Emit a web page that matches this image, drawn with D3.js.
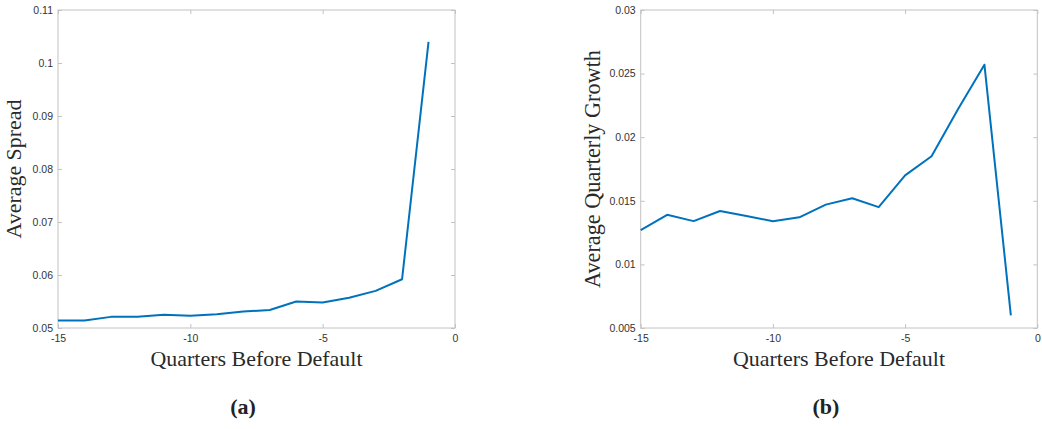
<!DOCTYPE html>
<html>
<head>
<meta charset="utf-8">
<script src="https://cdn.jsdelivr.net/npm/d3@7/dist/d3.min.js"></script>
<style>
  html, body { margin: 0; padding: 0; background: #fff; }
  svg { display: block; }
</style>
</head>
<body>
<svg id="chart" width="1042" height="429"></svg>
<script>
// ---- Data ----
const quarters = [-15, -14, -13, -12, -11, -10, -9, -8, -7, -6, -5, -4, -3, -2, -1];
const spreadValues = [0.0514, 0.0514, 0.0521, 0.0521, 0.0525, 0.0523, 0.0526, 0.0531, 0.0534, 0.0550, 0.0548, 0.0557, 0.0570, 0.0592, 0.1040];
const growthValues = [0.0127, 0.0139, 0.0134, 0.0142, 0.0138, 0.0134, 0.0137, 0.0147, 0.0152, 0.0145, 0.0170, 0.0185, 0.0222, 0.0257, 0.0060];
const xTicks = [-15, -10, -5, 0];
const spreadTicks = [0.05, 0.06, 0.07, 0.08, 0.09, 0.1, 0.11];
const growthTicks = [0.005, 0.01, 0.015, 0.02, 0.025, 0.03];
const xLabel = "Quarters Before Default";
const panels = [
  { values: spreadValues, yTicks: spreadTicks, yDomain: [0.05, 0.11], yLabel: "Average Spread", caption: "(a)" },
  { values: growthValues, yTicks: growthTicks, yDomain: [0.005, 0.03], yLabel: "Average Quarterly Growth", caption: "(b)" }
];

// ---- Layout ----
const layout = [
  { left: 58, right: 455, top: 10, bottom: 328, yLabelX: 21, yLabelW: 139, captionX: 243 },
  { left: 640.7, right: 1037.3, top: 10, bottom: 328, yLabelX: 600, yLabelW: 238, captionX: 826 }
];

const svg = d3.select("#chart");
const serif = "'Liberation Serif', 'DejaVu Serif', serif";
const sans = "'Liberation Sans', Arial, sans-serif";
const axisColor = "#c2c2c2";
const tickTextColor = "#333";

function fitText(sel, targetW) {
  const node = sel.node();
  const size = parseFloat(sel.attr("font-size"));
  const w = node.getComputedTextLength();
  if (w > 0) sel.attr("font-size", (size * targetW / w).toFixed(2));
}

panels.forEach((p, i) => {
  const L = layout[i];
  const x = d3.scaleLinear().domain([-15, 0]).range([L.left, L.right]);
  const y = d3.scaleLinear().domain(p.yDomain).range([L.bottom, L.top]);
  const g = svg.append("g");

  const tickLen = 4;
  const styleAxis = (ax, keepText) => {
    ax.select(".domain").remove();
    ax.selectAll(".tick line").attr("stroke", axisColor).attr("stroke-width", 1);
    if (keepText) {
      ax.selectAll(".tick text").attr("fill", tickTextColor).attr("font-family", sans).attr("font-size", "10.5px");
    } else {
      ax.selectAll(".tick text").remove();
    }
  };

  // bottom axis (ticks inward)
  const bx = g.append("g").attr("transform", `translate(0,${L.bottom})`)
    .call(d3.axisBottom(x).tickValues(xTicks).tickFormat(d => d < 0 ? "-" + Math.abs(d) : String(d)).tickSizeInner(-tickLen).tickSizeOuter(0).tickPadding(7));
  styleAxis(bx, true);
  // top axis ticks
  const tx = g.append("g").attr("transform", `translate(0,${L.top})`)
    .call(d3.axisTop(x).tickValues(xTicks).tickSizeInner(-tickLen).tickSizeOuter(0));
  styleAxis(tx, false);
  // left axis
  const fmt = d => String(+d.toFixed(4));
  const ly = g.append("g").attr("transform", `translate(${L.left},0)`)
    .call(d3.axisLeft(y).tickValues(p.yTicks).tickFormat(fmt).tickSizeInner(-tickLen).tickSizeOuter(0).tickPadding(5));
  styleAxis(ly, true);
  // right axis ticks
  const ry = g.append("g").attr("transform", `translate(${L.right},0)`)
    .call(d3.axisRight(y).tickValues(p.yTicks).tickSizeInner(-tickLen).tickSizeOuter(0));
  styleAxis(ry, false);

  // box
  g.append("rect")
    .attr("x", L.left).attr("y", L.top)
    .attr("width", L.right - L.left).attr("height", L.bottom - L.top)
    .attr("fill", "none").attr("stroke", axisColor).attr("stroke-width", 1);

  // line
  const line = d3.line().x((d, j) => x(quarters[j])).y(d => y(d));
  g.append("path").datum(p.values)
    .attr("d", line)
    .attr("fill", "none")
    .attr("stroke", "#0072BD")
    .attr("stroke-width", 2)
    .attr("stroke-linejoin", "round");

  // x label
  const xl = g.append("text")
    .attr("x", (L.left + L.right) / 2).attr("y", 365.5)
    .attr("text-anchor", "middle")
    .attr("font-family", serif).attr("font-size", 20).attr("fill", "#2a2a2a")
    .text(xLabel);
  fitText(xl, 212);

  // y label
  const yl = g.append("text")
    .attr("transform", `translate(${L.yLabelX},${(L.top + L.bottom) / 2}) rotate(-90)`)
    .attr("text-anchor", "middle")
    .attr("font-family", serif).attr("font-size", 20).attr("fill", "#2a2a2a")
    .text(p.yLabel);
  fitText(yl, L.yLabelW);

  // caption
  g.append("text")
    .attr("x", L.captionX).attr("y", 414)
    .attr("text-anchor", "middle")
    .attr("font-family", serif).attr("font-size", 22).attr("font-weight", "bold").attr("fill", "#222")
    .text(p.caption);
});
</script>
</body>
</html>
